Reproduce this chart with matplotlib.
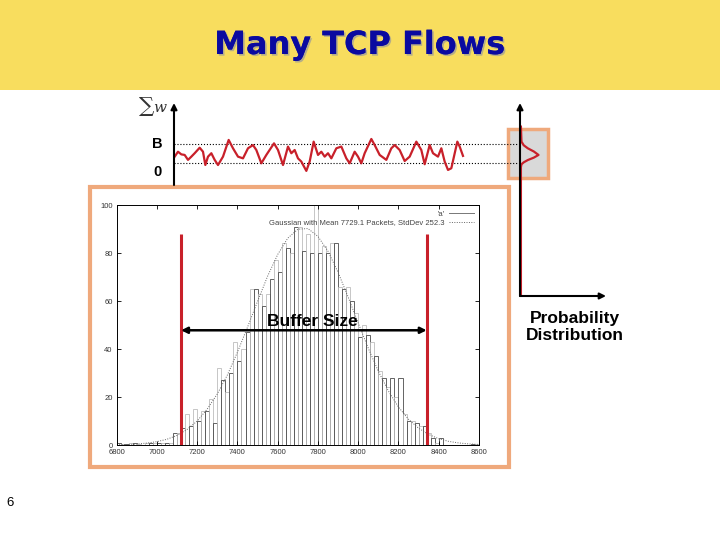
import matplotlib
matplotlib.use("Agg")
import numpy as np
from matplotlib import pyplot as plt
from matplotlib import patches
from matplotlib import patheffects
from matplotlib.lines import Line2D

plt.rcParams['font.family'] = ['Liberation Sans', 'DejaVu Sans']

# histogram: 20-packet bins starting at 6800
bin_start = np.arange(6800, 8600, 20)
counts = [1, 0.5, 0.5, 1, 1, 0.5, 0, 1, 1, 1,
          1, 1, 1, 1, 5, 5, 7, 13, 8, 15,
          10, 14, 14, 19, 9, 32, 27, 22, 30, 43,
          35, 40, 47, 65, 65, 63, 58, 63, 69, 77,
          72, 84, 82, 80, 91, 91, 81, 88, 80, 100,
          80, 83, 80, 84, 84, 66, 65, 66, 60, 55,
          45, 50, 46, 43, 37, 31, 28, 24, 28, 20,
          28, 13, 10, 10, 9, 8, 8, 5, 3, 1,
          3, 0, 0, 0, 0, 0, 0, 0, 0.5, 0.5]

# fitted gaussian
gauss_x = np.arange(6800, 8650, 50)
gauss_y = [0.1, 0.2, 0.4, 0.8, 1.4, 2.4, 4.0, 6.5, 10.0, 15.0, 21.3, 29.2, 38.7,
           49.1, 59.9, 70.4, 79.4, 86.2, 89.9, 90.2, 86.9, 80.7, 71.9, 61.6, 50.8,
           40.3, 30.7, 22.5, 15.8, 10.7, 7.0, 4.4, 2.6, 1.5, 0.85, 0.45, 0.23]

buffer_lo, buffer_hi = 7120, 8340

# sum of windows over time (0 = empty, 1 = B)
w_time = [0, 10, 20, 30, 40, 50, 60, 75, 85, 92,
          100, 110, 120, 130, 145, 162, 175, 190, 205, 220,
          235, 245, 260, 275, 298, 310, 325, 340, 350, 360,
          370, 380, 395, 405, 417, 430, 440, 450, 460, 470,
          485, 500, 515, 525, 540, 550, 560, 570, 590, 600,
          615, 635, 650, 660, 675, 690, 705, 725, 740, 750,
          765, 775, 790, 800, 810, 820, 830, 848, 855, 865]
w_sum = [0.35, 0.61, 0.47, 0.44, 0.18, 0.35, 0.53, 0.82, 0.61, -0.09,
         0.35, 0.53, 0.18, -0.09, 0.35, 1.23, 0.79, 0.35, 0.26, 0.79,
         0.96, 0.70, 0.00, 0.44, 1.05, 0.70, -0.09, 0.88, 0.53, 0.70,
         0.26, 0.09, -0.40, 0.09, 1.14, 0.44, 0.61, 0.35, 0.53, 0.26,
         0.79, 0.88, 0.26, 0.00, 0.61, 0.35, 0.00, 0.53, 1.28, 0.96,
         0.44, 0.18, 0.79, 0.96, 0.70, 0.12, 0.35, 1.14, 0.70, -0.05,
         0.96, 0.53, 0.35, 0.79, 0.09, -0.35, -0.26, 1.14, 0.88, 0.39]

# probability distribution of the window sum
pd_level = [1.93, 1.14, 0.95, 0.79, 0.62, 0.44, 0.30, 0.17, 0.05, -0.05, -0.20, -6.98]
pd_prob = [0.05, 0.08, 0.20, 0.42, 0.75, 1.00, 0.75, 0.42, 0.20, 0.08, 0.05, 0.05]

RED = '#C8202A'
ORANGE = '#EFA97C'
W, H = 720, 540


def px_axes(fig, x0, y0, x1, y1):
    # axes from pixel box (top-left origin)
    return fig.add_axes([x0 / W, 1 - y1 / H, (x1 - x0) / W, (y1 - y0) / H])


fig = plt.figure(figsize=(7.2, 5.4), dpi=100)

# slide canvas
bg = fig.add_axes([0, 0, 1, 1])
bg.set_xlim(0, W)
bg.set_ylim(H, 0)
bg.axis('off')
bg.add_patch(patches.Rectangle((0, 0), W, 90, facecolor='#F8DD5E', edgecolor='none'))
bg.text(360, 54, 'Many TCP Flows', ha='center', va='baseline', fontsize=23,
        fontweight='bold', family='DejaVu Sans', color='#0A0AA0',
        path_effects=[patheffects.withSimplePatchShadow(offset=(1.2, -1.2), shadow_rgbFace='#999999', alpha=0.7),
                      patheffects.Normal()])
bg.add_patch(patches.Rectangle((90, 187), 419, 280, fill=False, edgecolor=ORANGE, lw=3))
bg.add_patch(patches.Rectangle((508, 129), 40, 49, facecolor='#D9D9D9', edgecolor=ORANGE, lw=2.5))
bg.text(157, 144, 'B', ha='center', va='center', fontsize=10.5, fontweight='bold')
bg.text(157, 172, '0', ha='center', va='center', fontsize=10.5, fontweight='bold')
bg.text(153, 106, r'$\sum w$', ha='center', va='center', fontsize=11, color='#333333',
        math_fontfamily='dejavuserif')
bg.text(575, 327, 'Probability\nDistribution', ha='center', va='center', fontsize=12.5,
        fontweight='bold', linespacing=1.1)
bg.text(10, 503, '6', ha='center', va='center', fontsize=9.5)

# window sum time series
ax_w = px_axes(fig, 174, 103, 520, 185)
ax_w.patch.set_alpha(0)
ax_w.set_xlim(-2, 1036)
ax_w.set_ylim((163.3 - 185) / 19, (163.3 - 103) / 19)
ax_w.axhline(1, color='black', ls=':', lw=0.8)
ax_w.axhline(0, color='black', ls=':', lw=0.8)
ax_w.plot(w_time, w_sum, color=RED, lw=1.6, solid_joinstyle='round')
for s in ax_w.spines.values():
    s.set_visible(False)
ax_w.set_xticks([])
ax_w.set_yticks([])
ax_w.annotate('', xy=(0, 1), xytext=(0, 0), xycoords='axes fraction',
              arrowprops=dict(arrowstyle='-|>', color='black', lw=1.5, mutation_scale=9,
                              shrinkA=0, shrinkB=0))

# probability distribution
ax_p = px_axes(fig, 520, 103, 606, 296)
ax_p.patch.set_alpha(0)
ax_p.set_xlim(0, (606 - 520) / 18.5)
ax_p.set_ylim((163.3 - 296) / 19, (163.3 - 103) / 19)
ax_p.plot(pd_prob, pd_level, color=RED, lw=1.6, zorder=3)
for s in ax_p.spines.values():
    s.set_visible(False)
ax_p.set_xticks([])
ax_p.set_yticks([])
ax_p.annotate('', xy=(0, 1), xytext=(0, 0), xycoords='axes fraction',
              arrowprops=dict(arrowstyle='-|>', color='black', lw=1.5, mutation_scale=9,
                              shrinkA=0, shrinkB=0))
ax_p.annotate('', xy=(1, 0), xytext=(0, 0), xycoords='axes fraction',
              arrowprops=dict(arrowstyle='-|>', color='black', lw=1.5, mutation_scale=9,
                              shrinkA=0, shrinkB=0))

# histogram
ax = px_axes(fig, 116.7, 205, 479, 445)
edge = ['#4A4A4A' if i % 2 == 0 else '#BDBDBD' for i in range(len(counts))]
ax.bar(bin_start, counts, width=20, align='edge', fill=False, edgecolor=edge, lw=0.6)
gl, = ax.plot(gauss_x, gauss_y, color='#666666', ls=(0, (1, 1.5)), lw=0.7)
ax.vlines([buffer_lo, buffer_hi], 0, 88, color=RED, lw=2.2, zorder=4)
ax.annotate('', xy=(buffer_lo, 47.8), xytext=(buffer_hi, 47.8),
            arrowprops=dict(arrowstyle='<|-|>', color='black', lw=1.8, mutation_scale=9,
                            shrinkA=0, shrinkB=0), zorder=5)
ax.text((buffer_lo + buffer_hi) / 2 + 40, 51.5, 'Buffer Size', ha='center', va='center',
        fontsize=12.5, fontweight='bold', zorder=6)
ax.set_xlim(6800, 8600)
ax.set_ylim(0, 100)
ax.set_xticks(np.arange(6800, 8601, 200))
ax.set_yticks(np.arange(0, 101, 20))
ax.tick_params(direction='in', length=3, width=0.6, labelsize=5.5, labelcolor='#333333',
               top=True, right=True, pad=3)
for s in ax.spines.values():
    s.set_linewidth(0.7)
ax.legend(handles=[Line2D([], [], color='#777777', lw=0.7), gl],
          labels=["'a'", 'Gaussian with Mean 7729.1 Packets, StdDev 252.3'],
          loc='upper right', frameon=False, fontsize=5.5, markerfirst=False,
          handlelength=3.2, handletextpad=0.6, labelspacing=0.15, borderaxespad=0.3,
          labelcolor='#444444')

fig.savefig('out.png', dpi=100)
